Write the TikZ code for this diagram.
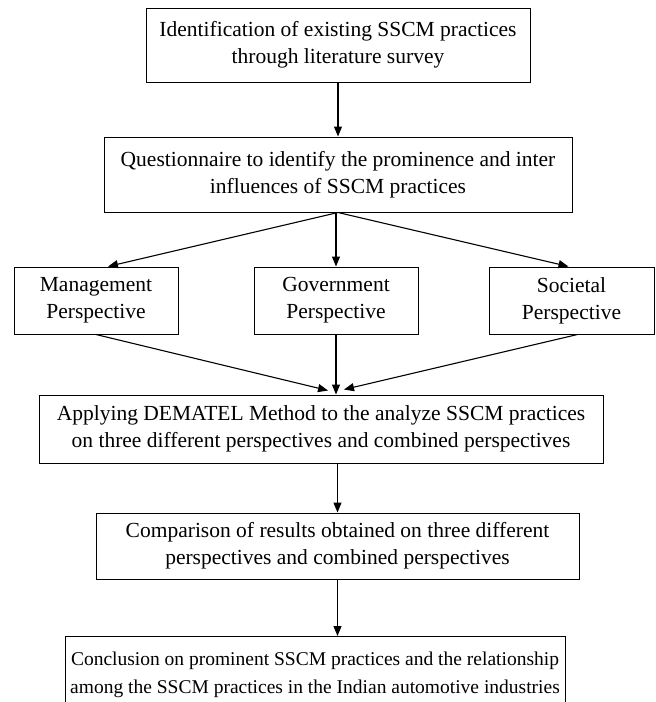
\documentclass[tikz,border=0pt]{standalone}
\usepackage{fontspec}
\setmainfont{Liberation Serif}
\usetikzlibrary{arrows.meta}

\begin{document}
\begin{tikzpicture}[x=1pt,y=-1pt,>={Triangle[length=10pt,width=8pt]},
  font=\fontsize{21.5}{27}\selectfont,
  box/.style={draw,line width=1pt,align=center,inner sep=0pt},
  link/.style={->,line width=1.1pt}]
  \clip (0,0) rectangle (656,702);
  \node[box,minimum width=384,minimum height=74] (survey) at (338,45)
    {Identification of existing SSCM practices\\through literature survey};
  \node[box,minimum width=468,minimum height=75] (quest) at (338,174.5)
    {Questionnaire to identify the prominence and inter\\influences of SSCM practices};
  \node[box,minimum width=164,minimum height=67] (mgmt) at (96,300.5)
    {Management\\Perspective};
  \node[box,minimum width=164,minimum height=67] (gov) at (336,300.5)
    {Government\\Perspective};
  \node[box,minimum width=165,minimum height=67] (soc) at (571.5,300.5)
    {Societal\\Perspective};
  \node[box,minimum width=564,minimum height=68] (apply) at (321,429)
    {Applying DEMATEL Method to the analyze SSCM practices\\on three different perspectives and combined perspectives};
  \node[box,minimum width=483,minimum height=66] (compare) at (337.5,546)
    {Comparison of results obtained on three different\\perspectives and combined perspectives};
  \node[box,minimum width=500,inner ysep=15pt,anchor=north,
    font=\fontsize{19.5}{28}\selectfont] (concl) at (315,636)
    {Conclusion on prominent SSCM practices and the relationship\\among the SSCM practices in the Indian automotive industries};
  \coordinate (meet) at (gov.south |- apply.north);
  \draw[link] (survey) -- (quest);
  \draw[link] (quest.south) -- ([xshift=12pt]mgmt.north);
  \draw[link] (gov.north |- quest.south) -- (gov.north);
  \draw[link] (quest.south) -- ([xshift=-3pt]soc.north);
  \draw[link] (mgmt.south) -- ([xshift=-8pt,yshift=4pt]meet);
  \draw[link] (gov.south) -- (meet);
  \draw[link] ([xshift=6pt]soc.south) -- ([xshift=8pt,yshift=5pt]meet);
  \draw[link] (compare.north |- apply.south) -- (compare.north);
  \draw[link] (compare.south) -- (compare.south |- concl.north);
\end{tikzpicture}
\end{document}
